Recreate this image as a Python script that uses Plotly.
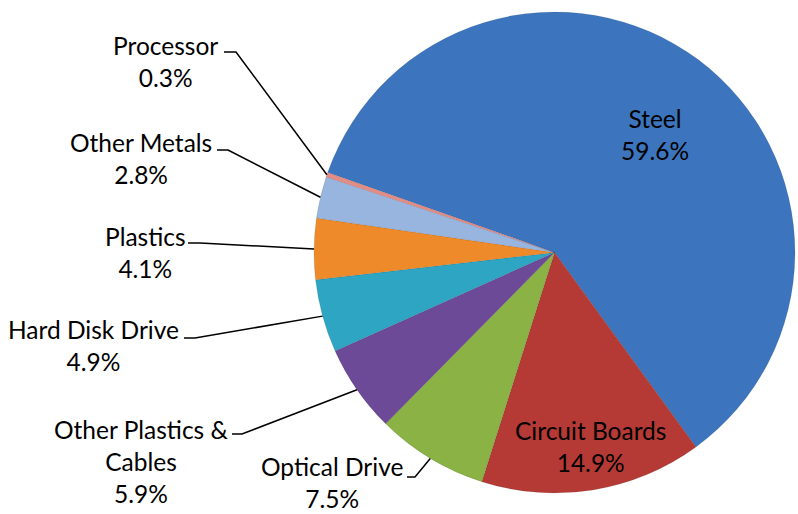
import math
import plotly.graph_objects as go

# ---- data ----
categories = ["Steel", "Circuit Boards", "Optical Drive", "Other Plastics &<br>Cables",
              "Hard Disk Drive", "Plastics", "Other Metals", "Processor"]
values = [59.6, 14.9, 7.5, 5.9, 4.9, 4.1, 2.8, 0.3]
colors = ["#3C75BE", "#B53A35", "#8AB244", "#6C4A98", "#2EA5C2", "#EF8A2B", "#98B5DF", "#E48C86"]

W, H = 798, 514
# pie placement (pixels)
CX, CY, R = 554.5, 252.5, 240.5
START = -70.6  # rotation of first slice (deg clockwise from 12 o'clock)

FONT = "Lato"
FS = 24.5

fig = go.Figure()
fig.add_trace(go.Pie(
    labels=categories, values=values, sort=False, direction="clockwise",
    rotation=START, marker=dict(colors=colors, line=dict(color="rgba(0,0,0,0.15)", width=0.6)),
    textinfo="none", hoverinfo="label+percent", showlegend=False,
    domain=dict(x=[(CX - R) / W, (CX + R) / W], y=[1 - (CY + R) / H, 1 - (CY - R) / H]),
))

def px(x, y):
    return x / W, 1 - y / H

total = sum(values)
mids = []
acc = START
for v in values:
    span = v / total * 360
    mids.append(acc + span / 2)
    acc += span

def edge(angle, f=1.0):
    a = math.radians(angle)
    return CX + f * R * math.sin(a), CY - f * R * math.cos(a)

annotations = []
shapes = []

# inside labels: label centre (pixels)
inside = {0: (655, 135), 1: (590, 446)}
for i, (lx, ly) in inside.items():
    ax, ay = px(lx, ly)
    annotations.append(dict(x=ax, y=ay, xref="paper", yref="paper",
                            text=f"{categories[i]}<br>{values[i]:.1f}%", showarrow=False,
                            xanchor="center", yanchor="middle", borderpad=0,
                            font=dict(family=FONT, size=FS, color="#000")))

# outside labels: label centre, elbow segment (x0, x1, y)
outside = {
    7: ((165, 61.5), (224, 236, 52)),
    6: ((141, 158.5), (217, 228, 150)),
    5: ((145, 252), (188, 200, 243)),
    4: ((93, 345), (184, 195, 338)),
    3: ((141, 461), (232, 242, 434)),
    2: ((332, 482), (407, 415, 477)),
}
for i, ((lx, ly), (x0, x1, yy)) in outside.items():
    ax, ay = px(lx, ly)
    annotations.append(dict(x=ax, y=ay, xref="paper", yref="paper",
                            text=f"{categories[i]}<br>{values[i]:.1f}%", showarrow=False,
                            xanchor="center", yanchor="middle", borderpad=0,
                            font=dict(family=FONT, size=FS, color="#000")))
    ex, ey = edge(mids[i])
    pts = [px(x0, yy), px(x1, yy), px(ex, ey)]
    path = "M " + " L ".join(f"{a},{b}" for a, b in pts)
    shapes.append(dict(type="path", path=path, xref="paper", yref="paper",
                       line=dict(color="#000", width=1.5)))

fig.update_layout(
    width=W, height=H, margin=dict(l=0, r=0, t=0, b=0),
    paper_bgcolor="white", plot_bgcolor="white",
    annotations=annotations, shapes=shapes,
)
fig.write_html("out.html", config={"displayModeBar": False},
               post_script="document.body.style.margin='0';document.body.style.padding='0';")
